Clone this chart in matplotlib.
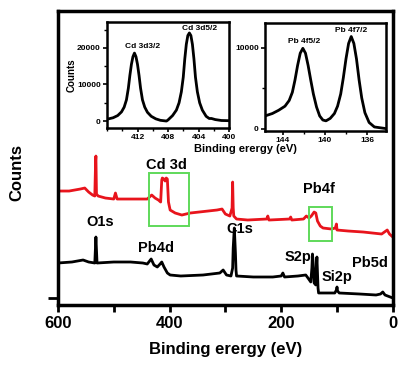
import numpy as np
import matplotlib
matplotlib.use('Agg')
from matplotlib import pyplot as plt
from matplotlib.patches import Rectangle
from matplotlib.ticker import MultipleLocator

plt.rcParams['font.family'] = ['Liberation Sans', 'DejaVu Sans']
plt.rcParams['font.weight'] = 'bold'

# survey spectra (binding energy, counts in arbitrary units)
red_be = [600, 580, 560, 552, 545, 538, 534, 532.5, 532, 531, 528, 515, 500, 497, 494, 480,
          460, 440, 432, 426, 420, 416, 414, 413, 410, 408, 406, 404, 402, 399, 390, 378,
          363, 315, 306, 300, 292, 288, 287, 286, 285, 280, 260, 226, 224, 222, 185, 183,
          181, 160, 155, 150, 146, 141, 138, 135, 130, 125, 110, 103, 101, 100, 80, 53,
          20, 10, 6, 0]
red_ct = [107, 107, 109, 110, 106, 103, 102, 138, 142, 104, 102, 100, 99, 105, 99, 99,
          99, 99, 103, 100, 98, 96, 118, 120, 119, 117, 120, 119, 96, 88, 85, 83,
          85, 88, 89, 84, 82, 90, 116, 90, 82, 79, 78, 79, 82, 78, 79, 81,
          78, 79, 82, 80, 82, 86, 85, 77, 72, 70, 69, 70, 74, 68, 67, 66,
          64, 68, 64, 61]

black_be = [600, 575, 555, 545, 534, 533, 532, 531, 530, 500, 470, 448, 440, 433, 428, 422,
            417, 414, 410, 404, 399, 380, 340, 310, 304, 298, 290, 287, 286, 284, 282, 281,
            280, 250, 215, 200, 197, 194, 170, 156, 152, 147, 145, 144, 142, 141, 138, 137,
            136, 134, 133, 120, 104, 101, 100, 99, 96, 60, 30, 22, 18, 14, 0]
black_ct = [35, 36, 38, 36, 35, 48, 61, 48, 35, 36, 36, 35, 34, 39, 33, 31,
            34, 36, 31, 25, 23, 22, 23, 25, 28, 23, 22, 30, 50, 70, 45, 28,
            22, 21, 21, 22, 25, 21, 22, 23, 20, 16, 30, 44, 30, 15, 13, 30,
            41, 10, 5, 5, 5, 8, 11, 7, 5, 4, 3, 4, 6, 3, 0]

# peak labels in survey
peak_names = ['Cd 3d', 'O1s', 'Pb4d', 'C1s', 'Pb4f', 'S2p', 'Si2p', 'Pb5d']
peak_be = [405, 525, 424, 274, 132, 170, 100, 41]
peak_ct = [133, 76, 50, 69, 109, 41, 21, 35]

# highlighted regions (BE range, count range)
boxes = [(437, 365, 72, 125), (150, 109, 57, 91)]

# Cd 3d high resolution
cd_be = [416, 415.2, 414.6, 414.1, 413.75, 413.45, 413.2, 413.0, 412.8, 412.6, 412.4,
         412.2, 412.0, 411.8, 411.6, 411.35, 411.05, 410.7, 410.2, 409.6, 409.0, 408.2,
         408.0, 407.4, 406.9, 406.55, 406.25, 406.0, 405.8, 405.6, 405.4, 405.2,
         405.0, 404.8, 404.6, 404.4, 404.15, 403.85, 403.5, 403.0, 402.6, 402.3,
         401.8, 401, 400]
cd_ct = [500, 900, 1500, 2500, 3800, 5800, 9000, 12500, 15500, 17600, 18600,
         17600, 15500, 12500, 9000, 5800, 3800, 2400, 1300, 600, 200, 0,
         300, 1500, 3000, 5000, 8000, 12000, 17000, 21000, 23400, 24100,
         23400, 21000, 17000, 12000, 8000, 5000, 3000, 1300, 700, 700,
         400, 150, 100]
cd_labels = ['Cd 3d3/2', 'Cd 3d5/2']
cd_lab_be = [411.4, 403.9]
cd_lab_ct = [20400, 25200]

# Pb 4f high resolution
pb_be = [145.7, 145, 144.4, 143.8, 143.4, 143.1, 142.85, 142.6, 142.35, 142.1, 141.85,
         141.6, 141.35, 141.1, 140.8, 140.5, 140.2, 139.9, 139.5, 139.1, 138.8, 138.5,
         138.25, 138.0, 137.75, 137.5, 137.25, 137.0, 136.75, 136.5, 136.2, 135.8,
         135.3, 134.2]
pb_ct = [1600, 1900, 2300, 2800, 3500, 4500, 6000, 7800, 9300, 9900, 9300,
         7800, 6000, 4300, 2700, 1600, 1100, 1000, 1300, 1900, 2800, 4300,
         6300, 8600, 10500, 11350, 10500, 8600, 6000, 3800, 2000, 800,
         250, 50]
pb_labels = ['Pb 4f5/2', 'Pb 4f7/2']
pb_lab_be = [142.0, 137.5]
pb_lab_ct = [10700, 12100]

fig = plt.figure(figsize=(4.17, 3.66), dpi=100)
ax = fig.add_axes([0.139, 0.1667, 0.803, 0.803])
ax.plot(red_be, red_ct, color='#e8141c', lw=2.0)
ax.plot(black_be, black_ct, color='black', lw=2.0)
for x0, x1, y0, y1 in boxes:
    ax.add_patch(Rectangle((x1, y0), x0 - x1, y1 - y0, fill=False,
                           edgecolor='#5fd95a', lw=1.4, zorder=5))
for name, x, y in zip(peak_names, peak_be, peak_ct):
    ax.text(x, y, name, ha='center', va='center', fontsize=10.5, fontweight='bold')

ax.set_xlim(600, 0)
ax.set_ylim(-7, 287)
ax.xaxis.set_major_locator(MultipleLocator(200))
ax.xaxis.set_minor_locator(MultipleLocator(100))
ax.set_yticks([0])
ax.set_yticklabels([])
ax.tick_params(axis='x', which='major', length=5, width=2, labelsize=12, pad=3)
ax.tick_params(axis='x', which='minor', length=5, width=2)
ax.tick_params(axis='y', length=7, width=2)
for lab in ax.get_xticklabels():
    lab.set_fontweight('bold')
for s in ax.spines.values():
    s.set_linewidth(2.5)
ax.set_xlabel('Binding erergy (eV)', fontsize=12, fontweight='bold', labelpad=8)
ax.set_ylabel('Counts', fontsize=12, fontweight='bold')
ax.yaxis.set_label_coords(-0.1, 0.45)

# insets
def style_inset(a):
    for s in a.spines.values():
        s.set_linewidth(1.8)
    a.tick_params(which='major', length=3, width=1.2, labelsize=6, pad=1.5)
    a.tick_params(which='minor', length=2, width=1.0)
    for lab in a.get_xticklabels() + a.get_yticklabels():
        lab.set_fontweight('bold')

ia = fig.add_axes([0.2566, 0.6503, 0.2926, 0.2896])
ia.plot(cd_be, cd_ct, color='black', lw=2.0)
ia.set_xlim(416, 400)
ia.set_ylim(-1900, 27100)
ia.set_xticks([412, 408, 404, 400])
ia.xaxis.set_minor_locator(MultipleLocator(2))
ia.set_yticks([0, 10000, 20000])
ia.yaxis.set_minor_locator(MultipleLocator(5000))
for t, x, y in zip(cd_labels, cd_lab_be, cd_lab_ct):
    ia.text(x, y, t, ha='center', va='center', fontsize=6, fontweight='bold')
ia.set_ylabel('Counts', fontsize=7, fontweight='bold', labelpad=0)
style_inset(ia)

ib = fig.add_axes([0.6355, 0.642, 0.290, 0.295])
ib.plot(pb_be, pb_ct, color='black', lw=2.0)
ib.set_xlim(145.7, 134.2)
ib.set_ylim(-250, 13000)
ib.set_xticks([144, 140, 136])
ib.xaxis.set_minor_locator(MultipleLocator(2))
ib.set_yticks([0, 10000])
ib.yaxis.set_minor_locator(MultipleLocator(5000))
for t, x, y in zip(pb_labels, pb_lab_be, pb_lab_ct):
    ib.text(x, y, t, ha='center', va='center', fontsize=6, fontweight='bold')
style_inset(ib)

fig.text(245 / 417, 1 - 149 / 366, 'Binding erergy (eV)', ha='center', va='center',
         fontsize=8, fontweight='bold')

fig.savefig('out.png', dpi=100)
